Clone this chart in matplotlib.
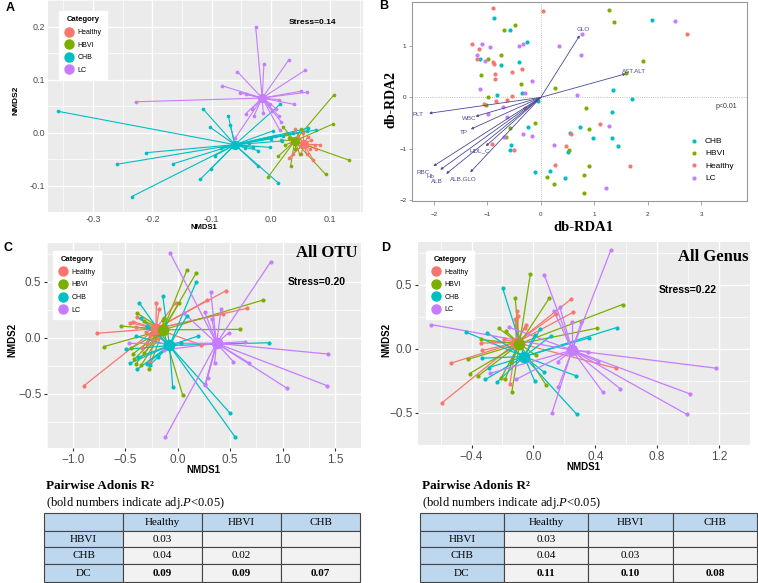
import numpy as np
import matplotlib
matplotlib.use("Agg")
import matplotlib.pyplot as plt
from matplotlib.lines import Line2D
from matplotlib.patches import Rectangle

plt.rcParams["font.family"] = ["Liberation Sans", "DejaVu Sans"]
plt.rcParams["mathtext.fontset"] = "custom"
plt.rcParams["mathtext.rm"] = "Liberation Serif"
plt.rcParams["mathtext.it"] = "Liberation Serif:italic"

W, H = 758, 583
groups = ["Healthy", "HBVI", "CHB", "LC"]
colors = {"Healthy": "#F8766D", "HBVI": "#7CAE00", "CHB": "#00BFC4", "LC": "#C77CFF"}

# ---- panel A : NMDS (spider plot) ----
a_cent = {"Healthy": (0.055, -0.022), "HBVI": (0.040, -0.016),
          "CHB": (-0.061, -0.023), "LC": (-0.015, 0.065)}
a_healthy = ([0.040, 0.062, 0.074, 0.071, 0.037, 0.030, 0.051, 0.065, 0.046, 0.076, 0.060, 0.048, 0.068, 0.054, 0.034, 0.082],
             [0.006, -0.008, -0.024, -0.051, -0.040, -0.048, -0.040, -0.031, -0.008, -0.031, -0.040, -0.025, -0.014, 0.000, -0.020, -0.023])
a_hbvi = ([0.106, 0.104, 0.131, 0.092, -0.005, 0.033, 0.020, 0.012, 0.023, 0.031, 0.040, 0.050, 0.048, 0.026, 0.017],
          [0.071, 0.016, -0.052, -0.079, -0.084, -0.063, 0.011, -0.045, -0.024, -0.011, -0.031, 0.006, -0.040, -0.003, -0.014])
a_chb = ([-0.359, -0.260, -0.235, -0.210, -0.165, -0.119, -0.101, -0.095, -0.115, -0.103, -0.072, -0.069, -0.022, 0.012, 0.015,
          0.003, 0.000, -0.037, -0.044, -0.031, -0.022, -0.002, 0.019, 0.020, 0.037, 0.060, 0.076, 0.062, -0.085, 0.006],
         [0.040, -0.060, -0.121, -0.038, -0.059, -0.088, -0.068, -0.044, 0.045, 0.010, 0.031, 0.015, -0.064, -0.095, 0.053,
          0.003, -0.012, -0.020, -0.029, -0.028, -0.034, -0.028, -0.016, -0.006, -0.001, 0.003, 0.005, 0.008, -0.030, -0.006])
a_lc = ([-0.026, -0.012, -0.057, 0.030, 0.058, -0.082, -0.053, -0.042, -0.227, 0.051, 0.060, 0.013, 0.039, 0.009, -0.001,
         -0.032, -0.043, -0.029, -0.013, 0.002, 0.013, 0.017, 0.015, -0.060],
        [0.200, 0.129, 0.115, 0.137, 0.118, 0.088, 0.075, 0.072, 0.058, 0.078, 0.076, 0.062, 0.053, 0.045, 0.053,
         0.045, 0.035, 0.031, 0.036, 0.040, 0.031, 0.020, 0.004, -0.010])

# ---- panel B : db-RDA ----
b_chb = ([-0.87, -0.58, -0.25, -1.13, -0.74, -0.41, -0.36, -0.82, -0.05, -0.24, -0.56, -0.58, 0.54, 0.73, 0.97, 1.33, 1.34,
          1.35, 1.70, 1.45, 2.08, 0.51, 0.17, -0.11, 0.45],
         [1.54, 1.31, 1.08, 0.74, 0.64, 0.69, 0.09, 0.05, -0.07, -0.58, -0.93, -1.02, -0.69, -0.58, -0.79, -0.79, -0.28,
          0.14, -0.04, -0.94, 1.50, -1.06, -1.43, -1.46, -1.58])
b_hbvi = ([1.28, 1.37, -0.49, -0.69, -0.75, -0.99, -1.12, -0.37, 1.59, 1.92, 0.27, -0.99, -1.02, -0.10, -0.58, -0.66,
           0.85, 0.90, 0.53, 0.90, 0.80, 0.12, 0.25, 0.81],
          [1.70, 1.47, 1.41, 1.32, 0.83, 0.74, 0.43, 0.26, 0.47, 0.71, 0.18, 0.00, -0.15, -0.49, -0.59, -0.77,
           -0.20, -0.62, -1.03, -1.34, -1.52, -1.56, -1.69, -1.86])
b_healthy = ([-0.89, 0.04, 2.74, -1.29, -1.16, -1.19, -0.89, -0.88, -0.86, -0.86, -0.53, -0.35, -0.53, -0.84, -0.64,
              -1.07, -0.29, -0.92, -0.50, 0.48, 0.56, 1.10, 0.26, 1.67],
             [1.75, 1.69, 1.23, 1.04, 0.95, 0.74, 0.69, 0.66, 0.45, 0.35, 0.49, 0.56, 0.02, -0.08, -0.05,
              -0.13, -0.20, -0.90, -1.02, -0.95, -0.72, -0.51, -1.31, -1.33])
b_lc = ([2.51, 0.77, 0.34, 0.76, -1.10, -0.95, -1.19, -1.04, -0.41, -0.34, -0.17, -1.14, -0.29, 0.67, -0.70, -0.99,
         -0.64, -0.34, -0.17, -0.69, 0.24, 1.27, 1.22],
        [1.48, 1.23, 1.00, 0.83, 1.04, 0.98, 0.82, 0.71, 1.01, 1.04, 0.31, 0.16, 0.08, 0.04, -0.19, -0.33,
         -0.39, -0.71, -0.75, -0.77, -0.92, -0.56, -1.77])
env_names = ["GLO", "AST.ALT", "PLT", "WBC", "TP", "HDL_C", "RBC", "Hb", "ALB", "ALB.GLO"]
env_x = [0.73, 1.59, -2.09, -1.22, -1.31, -1.03, -2.01, -1.88, -1.77, -1.32]
env_y = [1.21, 0.46, -0.31, -0.37, -0.62, -0.95, -1.34, -1.41, -1.49, -1.46]

# ---- panel C : All OTU ----
c_cent = {"Healthy": (-0.21, 0.08), "HBVI": (-0.14, 0.07), "CHB": (-0.08, -0.07), "LC": (0.37, -0.05)}
c_healthy = ([-0.777, -0.897, -0.457, -0.424, -0.389, -0.204, -0.177, -0.022, 0.283, 0.462, 0.427, 0.663, 0.223,
              -0.340, -0.293, -0.239, -0.304, -0.402, -0.266, -0.117, -0.185, -0.27],
             [0.039, -0.429, 0.134, 0.143, 0.182, 0.307, 0.253, 0.307, 0.336, 0.420, 0.211, 0.262, -0.065,
              -0.095, -0.057, -0.021, 0.054, 0.092, 0.024, -0.051, -0.006, -0.22])
c_hbvi = ([-0.707, -0.543, -0.386, -0.326, 0.087, 0.177, 0.014, 0.815, 0.590, 0.046, -0.280, -0.402, -0.429, -0.321,
           -0.448, -0.130, -0.141, -0.416, -0.348],
          [-0.080, 0.104, 0.217, 0.152, 0.604, 0.580, 0.313, 0.336, 0.074, -0.512, -0.283, -0.235, -0.146, -0.140,
           -0.095, 0.173, 0.158, -0.193, -0.244])
c_chb = ([-0.370, -0.144, -0.356, -0.299, -0.402, -0.457, -0.389, -0.299, -0.049, 0.177, 0.087, 0.196, 0.875, 0.033,
          -0.193, -0.266, -0.497, -0.383, 0.50, 0.55],
         [0.313, 0.372, 0.173, 0.098, 0.015, -0.229, -0.283, -0.235, -0.438, 0.500, 0.193, 0.015, -0.045, -0.051,
          -0.176, -0.244, -0.104, -0.176, -0.675, -0.89])
c_lc = ([-0.076, 0.889, 0.313, 0.258, 0.326, 0.060, 0.413, 0.489, 0.639, 1.432, 1.427, 1.043, 0.677, 0.530, 0.351,
         0.285, 0.264, -0.130, -0.462, -0.12, 0.26],
        [0.759, 0.679, 0.411, 0.226, 0.164, 0.217, 0.253, 0.045, -0.036, -0.146, -0.429, -0.452, -0.223, -0.214, -0.223,
         -0.357, -0.414, -0.110, -0.051, -0.89, -0.42])

# ---- panel D : All Genus ----
d_cent = {"Healthy": (-0.11, 0.05), "HBVI": (-0.09, 0.04), "CHB": (-0.06, -0.06), "LC": (0.25, -0.01)}
d_healthy = ([-0.107, -0.097, 0.146, 0.241, 0.258, 0.531, -0.533, -0.341, -0.331, -0.152, -0.59, -0.118, -0.057,
              -0.189, -0.270, -0.047],
             [0.294, 0.255, 0.271, 0.387, 0.287, -0.150, -0.111, 0.046, -0.012, -0.273, -0.42, 0.236, 0.167,
              0.074, 0.051, 0.190])
d_hbvi = ([-0.020, -0.118, 0.101, 0.576, 0.410, -0.225, -0.178, -0.341, -0.422, -0.412, -0.361, -0.209, -0.183,
           -0.144, 0.081, -0.14, 0.014],
          [0.583, 0.398, 0.394, 0.347, 0.162, 0.162, 0.139, 0.074, -0.081, -0.192, -0.215, -0.227, -0.238,
           -0.100, -0.280, -0.34, -0.049])
d_chb = ([-0.199, -0.436, -0.300, 0.008, 0.045, 0.116, 0.359, 0.538, 0.278, -0.335, -0.290, -0.310, -0.233, 0.008,
          0.069, 0.28],
         [0.475, 0.132, 0.127, 0.109, 0.155, 0.104, 0.086, 0.167, -0.211, -0.072, -0.146, -0.238, -0.257, -0.250,
          -0.181, -0.51])
d_lc = ([0.50, 0.07, 0.13, 0.17, 0.25, 0.31, -0.66, -0.16, 0.35, 1.18, 0.42, 0.156, -0.28, -0.112, 0.16, 1.01,
         0.99, 0.45, 0.56, 0.12],
        [0.77, 0.58, 0.30, 0.33, 0.21, 0.21, 0.19, 0.17, -0.02, -0.15, -0.10, -0.100, -0.19, -0.238, -0.30, -0.35,
         -0.51, -0.34, -0.31, -0.50])

# ---- pairwise adonis tables ----
tab_cols = ["Healthy", "HBVI", "CHB"]
tab_rows = ["HBVI", "CHB", "DC"]
otu_r2 = [["0.03", "", ""], ["0.04", "0.02", ""], ["0.09", "0.09", "0.07"]]
genus_r2 = [["0.03", "", ""], ["0.04", "0.03", ""], ["0.11", "0.10", "0.08"]]


fig = plt.figure(figsize=(W / 100, H / 100), dpi=100)


def px_axes(x0, y0, x1, y1):
    return fig.add_axes([x0 / W, 1 - y1 / H, (x1 - x0) / W, (y1 - y0) / H])


def ftext(x, y, s, **kw):
    kw.setdefault("ha", "center")
    kw.setdefault("va", "center")
    fig.text(x / W, 1 - y / H, s, **kw)


def gg_style(ax, xlim, ylim, xt, xl, yt, yl, fs):
    ax.set_facecolor("#EBEBEB")
    for s in ax.spines.values():
        s.set_visible(False)
    ax.set_xlim(xlim)
    ax.set_ylim(ylim)
    ax.set_xticks(xt)
    ax.set_xticklabels(xl)
    ax.set_yticks(yt)
    ax.set_yticklabels(yl)
    dx = xt[1] - xt[0]
    dy = yt[1] - yt[0]
    ax.set_xticks(np.arange(xt[0] - dx / 2, xt[-1] + dx, dx), minor=True)
    ax.set_yticks(np.arange(yt[0] - dy / 2, yt[-1] + dy, dy), minor=True)
    ax.grid(which="major", color="white", lw=1.0)
    ax.grid(which="minor", color="white", lw=0.5)
    ax.set_axisbelow(True)
    ax.tick_params(which="minor", length=0)
    ax.tick_params(which="major", length=2.5, width=0.8, color="#333333",
                   labelsize=fs, labelcolor="#4D4D4D", pad=1.5)


def spider(ax, data, cents, dot, cdot, lw):
    for g in groups:
        xs, ys = data[g]
        cx, cy = cents[g]
        for x, y in zip(xs, ys):
            ax.plot([cx, x], [cy, y], color=colors[g], lw=lw, zorder=2)
        ax.scatter(xs, ys, s=dot, color=colors[g], zorder=3, linewidths=0)
    for g in groups:
        cx, cy = cents[g]
        ax.scatter([cx], [cy], s=cdot, color=colors[g], zorder=4, linewidths=0)


def gg_legend(ax, anchor):
    hs = [Line2D([], [], marker="o", ls="", color=colors[g], markersize=6.5) for g in groups]
    lg = ax.legend(hs, groups, title="Category", loc="upper left", bbox_to_anchor=anchor,
                   fontsize=5, title_fontproperties={"weight": "bold", "size": 5.5},
                   frameon=True, fancybox=False, framealpha=1, edgecolor="white",
                   labelspacing=0.8, handlelength=1.2, handletextpad=0.6, borderpad=0.8)
    lg.set_zorder(10)


# ---------------- A ----------------
axA = px_axes(48, 0, 363, 212)
gg_style(axA, (-0.376, 0.155), (-0.142, 0.218),
         [-0.3, -0.2, -0.1, 0.0, 0.1], ["-0.3", "-0.2", "-0.1", "0.0", "0.1"],
         [-0.1, 0.0, 0.1, 0.2], ["-0.1", "0.0", "0.1", "0.2"], 6.5)
axA.tick_params(which="major", length=0, pad=2)
spider(axA, {"Healthy": a_healthy, "HBVI": a_hbvi, "CHB": a_chb, "LC": a_lc}, a_cent, 7, 45, 0.8)
gg_legend(axA, (0.025, 0.965))
ftext(313, 23, "Stress=0.14", fontsize=6, fontweight="bold")
ftext(204, 228, "NMDS1", fontsize=5.5, fontweight="bold")
ftext(16, 100, "NMDS2", fontsize=6, fontweight="bold", rotation=90)
ftext(10, 8, "A", fontsize=9, fontweight="bold")

# ---------------- B ----------------
axB = px_axes(412, 2, 747, 201)
axB.set_xlim(-2.41, 3.86)
axB.set_ylim(-2.02, 1.86)
for s in axB.spines.values():
    s.set_color("#999999")
    s.set_linewidth(0.8)
axB.set_xticks([-2, -1, 0, 1, 2, 3])
axB.set_yticks([-2, -1, 0, 1])
axB.set_xticklabels(["\u22122", "\u22121", "0", "1", "2", "3"])
axB.set_yticklabels(["\u22122", "\u22121", "0", "1"])
axB.tick_params(axis="x", length=3, width=0.6, color="#999999", labelsize=4.5, labelcolor="#333333", pad=5)
axB.tick_params(axis="y", length=2, width=0.6, color="#999999", labelsize=4.5, labelcolor="#333333", pad=2)
axB.axhline(0, color="#AAAAAA", ls=":", lw=0.6, zorder=1)
axB.axvline(0, color="#AAAAAA", ls=":", lw=0.6, zorder=1)
b_data = {"CHB": b_chb, "HBVI": b_hbvi, "Healthy": b_healthy, "LC": b_lc}
for g in ["CHB", "HBVI", "Healthy", "LC"]:
    axB.scatter(b_data[g][0], b_data[g][1], s=9, color=colors[g], linewidths=0, zorder=2, label=g)
for name, ex, ey in zip(env_names, env_x, env_y):
    axB.annotate("", xy=(ex, ey), xytext=(0, 0),
                 arrowprops=dict(arrowstyle="-|>", color="#4A4A96", lw=0.6,
                                 mutation_scale=3.5, shrinkA=0, shrinkB=0), zorder=3)
    axB.text(ex * 1.1, ey * 1.1, name, fontsize=4.5, color="#4A4A96", ha="center", va="center", zorder=3)
axB.text(3.47, -0.18, "p<0.01", fontsize=5, color="#333333", ha="center", va="center")
axB.legend(loc="upper left", bbox_to_anchor=(0.795, 0.36), frameon=False, fontsize=6,
           labelspacing=0.55, handletextpad=0.3, markerscale=1.0)
ftext(583, 228, "db-RDA1", fontsize=10.5, fontweight="bold", family="Liberation Serif")
ftext(391, 100, "db-RDA2", fontsize=10, fontweight="bold", family="Liberation Serif", rotation=90)
ftext(384, 6, "B", fontsize=9, fontweight="bold")

# ---------------- C ----------------
axC = px_axes(47, 243, 361, 448)
gg_style(axC, (-1.0, 1.56), (-0.985, 0.845),
         [-1.0, -0.5, 0.0, 0.5, 1.0, 1.5], ["\u22121.0", "\u22120.5", "0.0", "0.5", "1.0", "1.5"],
         [-0.5, 0.0, 0.5], ["\u22120.5", "0.0", "0.5"], 8.5)
spider(axC, {"Healthy": c_healthy, "HBVI": c_hbvi, "CHB": c_chb, "LC": c_lc}, c_cent, 9, 70, 0.9)
gg_legend(axC, (0.0096, 0.979))
ftext(327, 253, "All OTU", fontsize=12, fontweight="bold", family="Liberation Serif")
ftext(317, 282, "Stress=0.20", fontsize=7.5, fontweight="bold")
ftext(203, 470, "NMDS1", fontsize=7, fontweight="bold")
ftext(12, 340, "NMDS2", fontsize=7, fontweight="bold", rotation=90)
ftext(8, 248, "C", fontsize=9, fontweight="bold")

# ---------------- D ----------------
axD = px_axes(418, 242, 750, 445)
gg_style(axD, (-0.746, 1.27), (-0.574, 0.835),
         [-0.4, 0.0, 0.4, 0.8, 1.2], ["\u22120.4", "0.0", "0.4", "0.8", "1.2"],
         [-0.5, 0.0, 0.5], ["\u22120.5", "0.0", "0.5"], 8.5)
spider(axD, {"Healthy": d_healthy, "HBVI": d_hbvi, "CHB": d_chb, "LC": d_lc}, d_cent, 9, 70, 0.9)
gg_legend(axD, (0.015, 0.975))
ftext(713, 257, "All Genus", fontsize=12, fontweight="bold", family="Liberation Serif")
ftext(688, 290, "Stress=0.22", fontsize=7.5, fontweight="bold")
ftext(583, 467, "NMDS1", fontsize=7, fontweight="bold")
ftext(386, 340, "NMDS2", fontsize=7, fontweight="bold", rotation=90)
ftext(386, 248, "D", fontsize=9, fontweight="bold")

# ---------------- tables ----------------
axT = fig.add_axes([0, 0, 1, 1])
axT.set_xlim(0, W)
axT.set_ylim(H, 0)
axT.axis("off")


def draw_table(x_edges, y_edges, values):
    for i in range(4):
        for j in range(4):
            x0, x1 = x_edges[j], x_edges[j + 1]
            y0, y1 = y_edges[i], y_edges[i + 1]
            face = "#BDD7EE" if (i == 0 or j == 0) else "#F2F2F2"
            axT.add_patch(Rectangle((x0, y0), x1 - x0, y1 - y0, facecolor=face,
                                    edgecolor="#444444", lw=0.8))
            if i == 0 and j == 0:
                continue
            if i == 0:
                s = tab_cols[j - 1]
            elif j == 0:
                s = tab_rows[i - 1]
            else:
                s = values[i - 1][j - 1]
            bold = (i == 3 and j > 0)
            axT.text((x0 + x1) / 2, (y0 + y1) / 2 + 0.5, s, ha="center", va="center",
                     fontsize=8, family="Liberation Serif", fontweight="bold" if bold else "normal")
    x0 = x_edges[0]
    axT.text(x0 + 2, 486, "Pairwise Adonis R\u00b2", fontsize=9.5, fontweight="bold",
             family="Liberation Serif", ha="left", va="center")
    axT.text(x0 + 2, 503, r"(bold numbers indicate adj.$\it{P}$<0.05)", fontsize=9,
             family="Liberation Serif", ha="left", va="center")


y_edges = [513, 531, 547, 564, 582]
draw_table([44, 123, 202, 281, 360], y_edges, otu_r2)
draw_table([420, 504, 588, 673, 757], y_edges, genus_r2)

fig.savefig("out.png", dpi=100)
